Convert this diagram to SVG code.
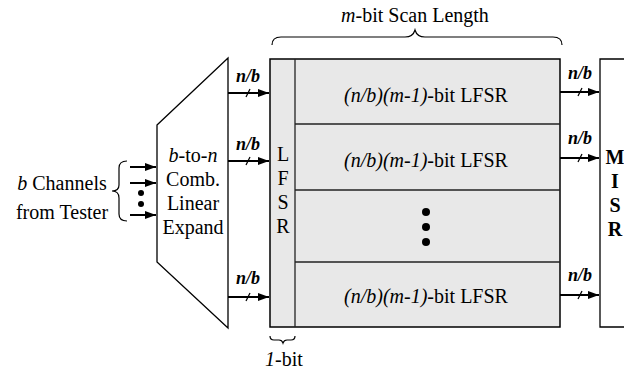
<svg xmlns="http://www.w3.org/2000/svg" width="624" height="372" viewBox="0 0 624 372">
<defs>
<marker id="ah" markerUnits="userSpaceOnUse" markerWidth="11" markerHeight="8" refX="11" refY="4" orient="auto">
<path d="M0,0 L11,4 L0,8 Z" fill="#000"/>
</marker>
<style>
text{font-family:"Liberation Serif","Times New Roman",serif;fill:#000;}
.t{font-size:20px;text-anchor:middle;}
.b{font-weight:bold;}
.i{font-style:italic;}
.nb{font-size:18px;font-weight:bold;font-style:italic;text-anchor:middle;}
.box{fill:#e8e8e8;stroke:#000;stroke-width:1.5;}
.row{fill:none;stroke:#222;stroke-width:1.3;}
.ar{fill:none;stroke:#000;stroke-width:2;marker-end:url(#ah);}
.tick{stroke:#000;stroke-width:1.2;}
.br{fill:none;stroke:#000;stroke-width:1.2;}
</style>
</defs>
<rect width="624" height="372" fill="#fff"/>

<g id="source">
<text class="t" x="62" y="190"><tspan class="i">b</tspan> Channels</text>
<text class="t" x="62" y="219">from Tester</text>
<path class="br" d="M127,161 Q119,161 119,168 L119,185 Q119,191 112,191 Q119,191 119,198 L119,214 Q119,221 127,221"/>
<circle cx="141" cy="193" r="3"/>
<circle cx="141" cy="204" r="3"/>
</g>

<g id="expander">
<path d="M157,125 L228,58 L228,328 L157,262 Z" fill="#fff" stroke="#000" stroke-width="1.3"/>
<text class="t" x="193" y="162"><tspan class="i">b</tspan>-to-<tspan class="i">n</tspan></text>
<text class="t" x="193" y="186">Comb.</text>
<text class="t" x="193" y="210">Linear</text>
<text class="t" x="193" y="234">Expand</text>
</g>

<g id="lfsr-array">
<rect class="box" x="270" y="59" width="290" height="268"/>
<line class="row" x1="295" y1="59" x2="295" y2="327"/>
<line class="row" x1="295" y1="124" x2="560" y2="124"/>
<line class="row" x1="295" y1="190" x2="560" y2="190"/>
<line class="row" x1="295" y1="262" x2="560" y2="262"/>
</g>

<g id="lfsr-bit">
<text class="t" x="283" y="161">L</text>
<text class="t" x="283" y="185">F</text>
<text class="t" x="283" y="209">S</text>
<text class="t" x="283" y="233">R</text>
</g>

<g id="row1"><text class="t" x="426" y="102"><tspan class="i">(n/b)(m-1)</tspan>-bit LFSR</text></g>
<g id="row2"><text class="t" x="426" y="167"><tspan class="i">(n/b)(m-1)</tspan>-bit LFSR</text></g>
<g id="row3">
<circle cx="426" cy="212" r="4"/>
<circle cx="426" cy="227" r="4"/>
<circle cx="426" cy="242" r="4"/>
</g>
<g id="row4"><text class="t" x="426" y="303"><tspan class="i">(n/b)(m-1)</tspan>-bit LFSR</text></g>

<g id="misr">
<path d="M626,59 L600,59 L600,327 L626,327" fill="#fff" stroke="#000" stroke-width="1.3"/>
<text class="t b" x="615" y="164">M</text>
<text class="t b" x="615" y="188">I</text>
<text class="t b" x="615" y="212">S</text>
<text class="t b" x="615" y="236">R</text>
</g>

<g id="scan-length">
<text class="t" x="415" y="22"><tspan class="i">m</tspan>-bit Scan Length</text>
<path class="br" d="M272,45 Q272,37 281,37 L405,37 Q413,37 415,30 Q417,37 425,37 L553,37 Q562,37 562,45"/>
</g>

<g id="one-bit">
<path class="br" d="M270,336 Q270,340 274,340 L279,340 Q282,340 283,343 Q284,340 287,340 L291,340 Q295,340 295,336"/>
<text class="t" x="284" y="366"><tspan class="i">1</tspan>-bit</text>
</g>

<g id="connectors">
<line class="ar" x1="130" y1="167" x2="156" y2="167"/>
<line class="ar" x1="130" y1="183" x2="156" y2="183"/>
<line class="ar" x1="130" y1="215" x2="156" y2="215"/>

<line class="ar" x1="228" y1="93" x2="269" y2="93"/>
<line class="ar" x1="228" y1="161" x2="269" y2="161"/>
<line class="ar" x1="228" y1="297" x2="269" y2="297"/>
<line class="tick" x1="246" y1="97" x2="250" y2="89"/>
<line class="tick" x1="246" y1="165" x2="250" y2="157"/>
<line class="tick" x1="246" y1="301" x2="250" y2="293"/>
<text class="nb" x="248" y="82">n/b</text>
<text class="nb" x="248" y="150">n/b</text>
<text class="nb" x="248" y="284">n/b</text>

<line class="ar" x1="560" y1="92" x2="599" y2="92"/>
<line class="ar" x1="560" y1="158" x2="599" y2="158"/>
<line class="ar" x1="560" y1="295" x2="599" y2="295"/>
<line class="tick" x1="578" y1="96" x2="582" y2="88"/>
<line class="tick" x1="578" y1="162" x2="582" y2="154"/>
<line class="tick" x1="578" y1="299" x2="582" y2="291"/>
<text class="nb" x="580" y="79">n/b</text>
<text class="nb" x="580" y="144">n/b</text>
<text class="nb" x="580" y="281">n/b</text>
</g>
</svg>
